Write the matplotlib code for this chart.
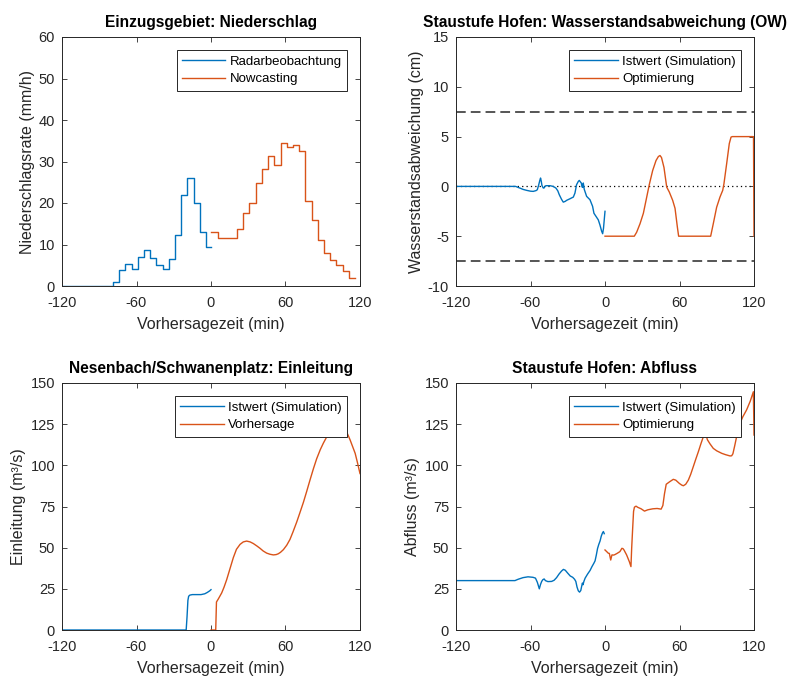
import matplotlib
matplotlib.use('Agg')
import matplotlib.pyplot as plt

plt.rcParams['font.family'] = ['Liberation Sans', 'DejaVu Sans']
plt.rcParams['axes.unicode_minus'] = False

# Farben (MATLAB-Standard)
C_BLUE = '#0072BD'
C_ORANGE = '#D95319'
C_AX = '#262626'

# ------------------------------------------------------------
# Niederschlag (5-Minuten-Stufen)
# ------------------------------------------------------------
radar_t = [-120, -79, -74, -69, -64, -59, -54, -49, -44, -39, -34, -29,
           -24, -19, -14, -9, -4, 0]
radar_rate = [0, 1.0, 3.8, 5.2, 4.0, 6.9, 8.6, 6.7, 5.0, 4.0, 6.6, 12.2,
              21.9, 26.1, 20.0, 13.1, 9.3, 9.3]

nowcast_t = [0, 6, 11, 16, 21, 26, 31, 36, 41, 46, 51, 56, 61, 66, 71, 76,
             81, 86, 91, 96, 101, 106, 111, 116]
nowcast_rate = [12.9, 11.6, 11.5, 11.5, 13.8, 17.5, 19.9, 24.9, 28.2, 31.3,
                29.1, 34.4, 33.6, 33.9, 32.6, 20.5, 15.9, 11.2, 8.0, 6.3,
                5.1, 3.5, 1.85, 1.85]

# ------------------------------------------------------------
# Wasserstandsabweichung Staustufe Hofen
# ------------------------------------------------------------
ws_ist_t = [-120, -72, -70, -68.5, -66, -63, -60, -57.8, -55.5, -54.5, -53.5,
            -52.5, -51.9, -51.3, -50.8, -49.8, -49.2, -48.3, -47.6, -44.3,
            -41.7, -39.5, -38, -36.8, -35, -33.6, -32, -30.9, -28.2, -25.5,
            -24.2, -22.9, -21.5, -20.7, -19.8, -19.1, -18.5, -18, -17.5,
            -16.7, -14.8, -12.1, -10, -8.9, -7.3, -5.4, -4.1, -2.7, -1.9,
            -1.2, -0.5, 0]
ws_ist = [0, 0, -0.1, -0.17, -0.3, -0.4, -0.48, -0.5, -0.42, -0.33, 0.1,
          0.6, 0.84, 0.5, 0.1, -0.15, -0.17, 0, 0.07, 0.07,
          0, -0.17, -0.45, -0.84, -1.3, -1.58, -1.5, -1.4, -1.24, -1.07,
          -0.67, 0.17, 0.5, 0.6, 0.45, 0.34, -0.05, -0.1, 0.34,
          -0.3, -1.0, -1.34, -2.0, -2.7, -3.0, -3.36, -3.86, -4.5, -4.75,
          -4.2, -3.2, -2.5]

ws_opt_t = [0, 23.6, 25.5, 28.2, 30.9, 33.6, 35.7, 38.4, 41.1, 43, 44.3, 45.5,
            47.5, 49.7, 51.8, 54.5, 56.4, 58.3, 59.3, 85.1, 87.2, 89.9, 92.6,
            94.8, 95.8, 98, 100.1, 101.5, 102.5, 119.6, 120]
ws_opt = [-5, -5, -4.6, -3.75, -2.7, -1.07, 0.2, 1.6, 2.6, 3.0, 3.1, 2.9,
          1.9, -0.07, -0.57, -1.4, -2.2, -4.1, -5, -5, -3.75, -2.1, -1.07,
          -0.4, 0.27, 2.3, 4.3, 4.95, 5, 5, -5]

ws_grenze = [7.5, -7.5]

# ------------------------------------------------------------
# Einleitung Nesenbach/Schwanenplatz
# ------------------------------------------------------------
einl_ist_t = [-120, -20, -19.3, -18.6, -18, -17, -15, -12, -8, -5, -3, -1, 0]
einl_ist = [0, 0, 8, 18, 20.5, 21.2, 21.5, 21.5, 21.5, 22, 22.8, 23.8, 24.5]

einl_vorh_t = [0, 3.8, 4.4, 6, 8.6, 10.5, 12.6, 15, 18, 20.5, 23.4, 26, 28.7,
               31.5, 34.1, 37, 39.5, 42, 44.8, 47.5, 50.2, 52.5, 54.2, 56,
               58.3, 61, 63.6, 66, 69, 71.5, 74.4, 77, 79.7, 82.5, 85.1, 88,
               90.5, 93, 95.8, 99, 102, 105, 108, 110, 112, 114, 116.1, 118,
               120]
einl_vorh = [0, 0, 17, 19, 22.5, 26, 30.5, 36.5, 44, 49, 52, 53.5, 54,
             53.5, 52.5, 51, 49.6, 48, 46.7, 46, 45.6, 45.8, 46.3, 47.2,
             48.8, 51.5, 55, 59.5, 65.5, 71, 77.5, 84, 91, 98, 104, 109.5,
             113.5, 117, 119.8, 122, 123, 122.8, 121.3, 119, 115.5, 111.5,
             107.3, 101.5, 95]

# ------------------------------------------------------------
# Abfluss Staustufe Hofen
# ------------------------------------------------------------
abfl_ist_t = [-120, -72.5, -70, -66, -62, -58, -56, -54.5, -53.5, -52.9, -52,
              -51, -50, -49, -48, -46, -43, -41, -39, -37, -35, -33.5, -32,
              -30, -28, -26, -24.5, -23.5, -22.5, -21.5, -20.5, -19.5, -18.8,
              -18.2, -17.7, -17, -16, -14, -12, -10.5, -9, -8, -7, -6, -5,
              -4, -3, -2, -1.3, -0.6]
abfl_ist = [30, 30, 30.8, 31.8, 32.3, 32, 31.5, 29, 26.5, 25, 27.5,
            29.5, 30.6, 31, 30, 29.4, 29.5, 30.2, 31.8, 34, 35.8, 36.8, 36.3,
            34.5, 32.8, 32, 30.8, 29.5, 26, 23.8, 23, 24, 26.5,
            28.5, 27.5, 29.5, 31.5, 34, 36.2, 38.5, 40.5, 42, 45.5, 49.5, 52,
            54, 57, 59, 59.8, 58.5]

abfl_opt_t = [0, 1.5, 2.7, 3.5, 4.6, 5.6, 7, 8, 9.9, 12, 13.6, 14.5, 15.3,
              17.4, 19.6, 20.9, 21.5, 22.3, 23, 23.7, 25, 26.4, 29.1, 31.8,
              34.5, 38.5, 42, 45.2, 46.6, 47.9, 49.3, 52, 55, 57, 59.9, 61.8,
              63.1, 65, 67.1, 69, 71.1, 73, 75.2, 77.2, 79.2, 80.5, 81.5,
              82.5, 84.6, 87.2, 90, 94, 97, 100.7, 102, 103, 104.5, 106,
              108.7, 111, 114, 117, 119.5, 120]
abfl_opt = [48.6, 47.5, 46.6, 46.5, 42.5, 45.6, 45.5, 45.8, 46.6, 47.6, 49.6,
            49.4, 48.6, 45.6, 41.5, 38.5, 50, 62, 72, 74.6, 75.2, 74.5, 73.6,
            72.2, 73, 73.6, 73.8, 73.4, 75.6, 82.7, 88.5, 90, 91.5, 91, 89,
            88, 87.6, 88.5, 91, 94.5, 99.2, 103.5, 108.3, 113, 117.4, 119.5,
            118, 115.5, 113, 110.3, 108.8, 107.3, 106.5, 105.7, 105.8, 107,
            112, 117.4, 125.5, 129.5, 133.6, 139, 144.7, 118.4]

X_TICKS = [-120, -60, 0, 60, 120]
X_LABEL = 'Vorhersagezeit (min)'


def style_axes(ax, title, ylabel, ylim, yticks):
    ax.set_xlim(-120, 120)
    ax.set_ylim(*ylim)
    ax.set_xticks(X_TICKS)
    ax.set_yticks(yticks)
    ax.set_title(title, fontsize=11.2, fontweight='bold', pad=7, color='black')
    ax.set_xlabel(X_LABEL, fontsize=11.5, color=C_AX, labelpad=5)
    ax.set_ylabel(ylabel, fontsize=11.5, color=C_AX, labelpad=3)
    ax.tick_params(direction='in', top=True, right=True, length=3.5,
                   width=0.6, colors=C_AX, labelsize=10.5)
    ax.tick_params(axis='y', pad=5)
    ax.tick_params(axis='x', pad=7.5)
    for sp in ax.spines.values():
        sp.set_color(C_AX)
        sp.set_linewidth(0.7)


def add_legend(ax, labels):
    leg = ax.legend(labels, loc='upper right', fontsize=9.5, fancybox=False,
                    framealpha=1, edgecolor=C_AX, borderaxespad=1.0,
                    handlelength=3.3, handletextpad=0.3, labelspacing=0.4,
                    borderpad=0.4)
    leg.get_frame().set_linewidth(0.7)
    for t in leg.get_texts():
        t.set_color('black')
    leg.set_zorder(5)


fig = plt.figure(figsize=(7.95, 6.78), dpi=100)
fig.patch.set_facecolor('white')

W, H = 795, 678
ax_w, ax_h_top, ax_h_bot = 298 / W, 249 / H, 247 / H
left1, left2 = 62 / W, 456 / W
bot_top, bot_bot = 1 - 286 / H, 1 - 630 / H

ax1 = fig.add_axes([left1, bot_top, ax_w, ax_h_top])
ax2 = fig.add_axes([left2, bot_top, ax_w, ax_h_top])
ax3 = fig.add_axes([left1, bot_bot, ax_w, ax_h_bot])
ax4 = fig.add_axes([left2, bot_bot, ax_w, ax_h_bot])

LW = 1.0

# 1. Niederschlag
ax1.plot(radar_t, radar_rate, color=C_BLUE, lw=LW, drawstyle='steps-post')
ax1.plot(nowcast_t, nowcast_rate, color=C_ORANGE, lw=LW, drawstyle='steps-post')
style_axes(ax1, 'Einzugsgebiet: Niederschlag', 'Niederschlagsrate (mm/h)',
           (0, 60), range(0, 61, 10))
add_legend(ax1, ['Radarbeobachtung', 'Nowcasting'])

# 2. Wasserstandsabweichung
ax2.plot(ws_ist_t, ws_ist, color=C_BLUE, lw=LW)
ax2.plot(ws_opt_t, ws_opt, color=C_ORANGE, lw=LW)
for g in ws_grenze:
    ax2.axhline(g, color='#555555', lw=1.4, dashes=(5, 2.6), zorder=1)
ax2.axhline(0, color='black', lw=0.9, ls=(0, (1, 2.5)), zorder=1)
style_axes(ax2, 'Staustufe Hofen: Wasserstandsabweichung (OW)',
           'Wasserstandsabweichung (cm)', (-10, 15), range(-10, 16, 5))
add_legend(ax2, ['Istwert (Simulation)', 'Optimierung'])

# 3. Einleitung
ax3.plot(einl_ist_t, einl_ist, color=C_BLUE, lw=LW)
ax3.plot(einl_vorh_t, einl_vorh, color=C_ORANGE, lw=LW)
style_axes(ax3, 'Nesenbach/Schwanenplatz: Einleitung', 'Einleitung (m³/s)',
           (0, 150), range(0, 151, 25))
add_legend(ax3, ['Istwert (Simulation)', 'Vorhersage'])

# 4. Abfluss
ax4.plot(abfl_ist_t, abfl_ist, color=C_BLUE, lw=LW)
ax4.plot(abfl_opt_t, abfl_opt, color=C_ORANGE, lw=LW)
style_axes(ax4, 'Staustufe Hofen: Abfluss', 'Abfluss (m³/s)',
           (0, 150), range(0, 151, 25))
add_legend(ax4, ['Istwert (Simulation)', 'Optimierung'])

fig.savefig('out.png', dpi=100, facecolor='white')
